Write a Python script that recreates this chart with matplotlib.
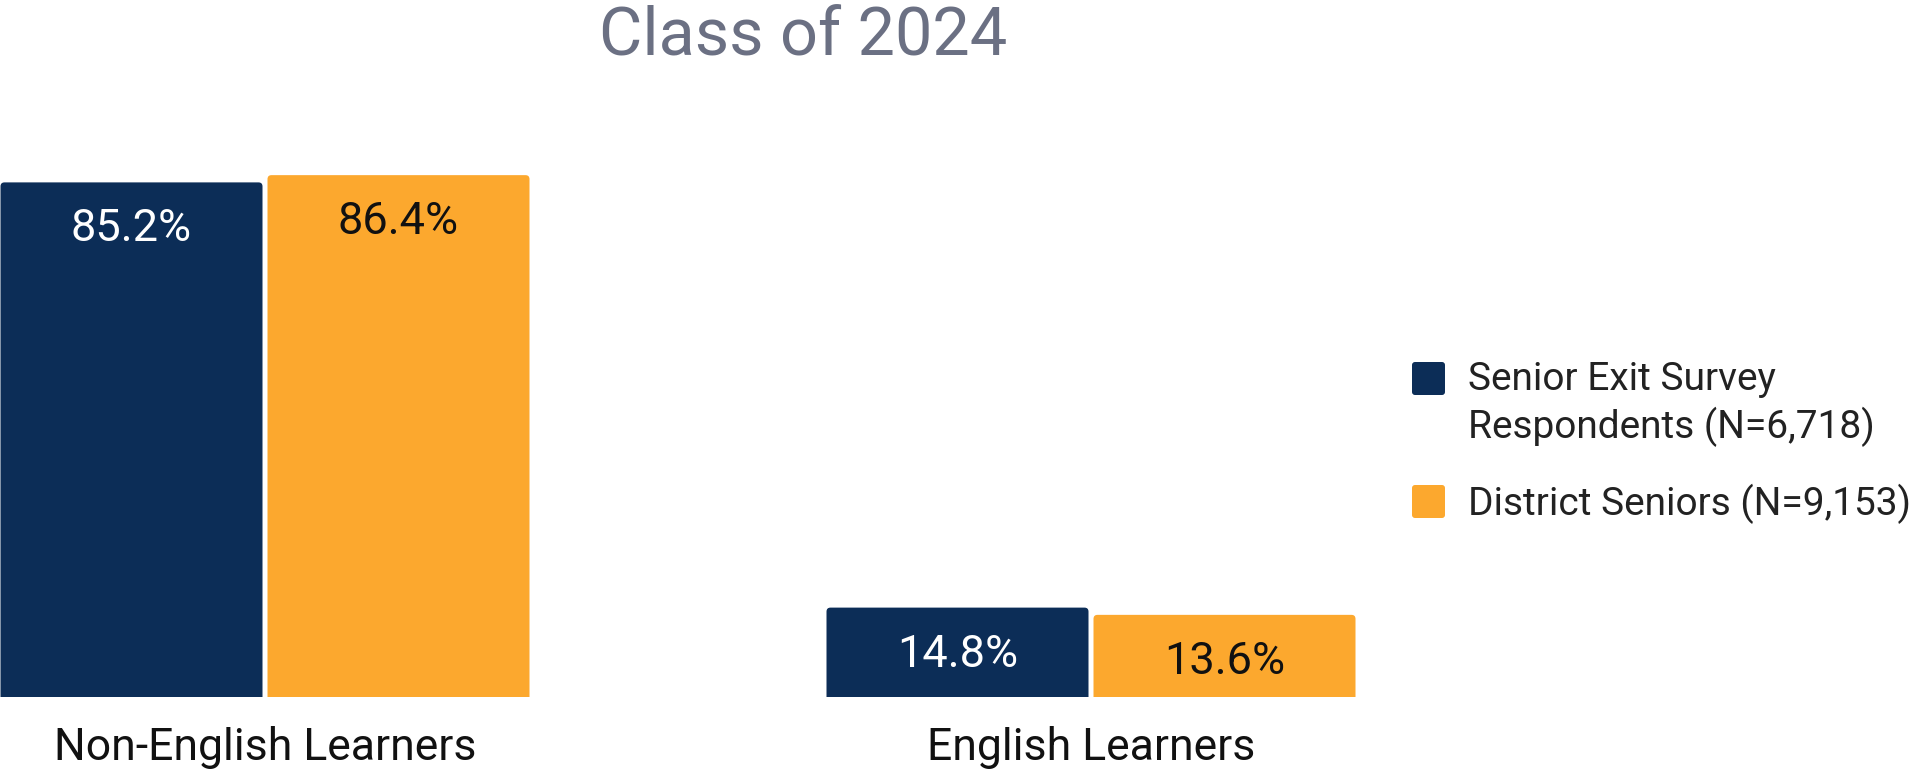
import matplotlib
matplotlib.use('Agg')
import matplotlib.pyplot as plt
from matplotlib.patches import Rectangle, FancyBboxPatch

categories = ['Non-English Learners', 'English Learners']
series_names = ['Senior Exit Survey\nRespondents (N=6,718)', 'District Seniors (N=9,153)']
survey = [85.2, 14.8]
district = [86.4, 13.6]
title = 'Class of 2024'

colors = ['#0c2d57', '#fca82e']
label_colors = ['#ffffff', '#111111']

plt.rcParams['font.family'] = ['Roboto', 'DejaVu Sans']

W, H = 1913, 769
fig = plt.figure(figsize=(W / 100, H / 100), dpi=100)
PT = 72 / 100  # points per pixel


def fx(px):
    return px / W


def fy(py):
    return 1 - py / H


base_px = 697
ppu = 6.04
top_px = base_px - 100 * ppu
right_px = 1390
group_dist = 826
c0 = 265

ax = fig.add_axes([0, fy(base_px), right_px / W, (base_px - top_px) / H])
bw = 262 / group_dist
gap = 5 / group_dist
off = (bw + gap) / 2
xs = list(range(len(categories)))
radius_px = 4
aspect = (1 / ppu) / (1 / group_dist)

for si, (vals, col, lc) in enumerate(zip([survey, district], colors, label_colors)):
    pos = [x + (-off if si == 0 else off) for x in xs]
    bars = ax.bar(pos, vals, width=bw, color=col, linewidth=0)
    for b in bars:
        bx, bwid, bh = b.get_x(), b.get_width(), b.get_height()
        b.set_visible(False)
        ext = radius_px / ppu
        fb = FancyBboxPatch((bx, -ext), bwid, bh + ext,
                            boxstyle=f'round,pad=0,rounding_size={radius_px / group_dist}',
                            mutation_aspect=aspect, facecolor=col, edgecolor='none')
        ax.add_patch(fb)
    for p, v in zip(pos, vals):
        ax.annotate(f'{v:.1f}%', xy=(p, v), xytext=(0, -59 * PT), textcoords='offset points',
                    ha='center', va='baseline', fontsize=32.5, color=lc)

for x, cat in zip(xs, categories):
    ax.annotate(cat, xy=(x, 0), xytext=(0, -63 * PT), textcoords='offset points',
                ha='center', va='baseline', fontsize=32, color='#111111', annotation_clip=False)

ax.set_xlim(-c0 / group_dist, (right_px - c0) / group_dist)
ax.set_ylim(0, 100)
ax.axis('off')

fig.text(fx(803), fy(55), title, ha='center', va='baseline', fontsize=48, color='#6b7083')

# legend
sq = 33
legend_items = [(362, [390, 438]), (485, [515])]
for (sq_top, baselines), name, col in zip(legend_items, series_names, colors):
    fig.patches.append(FancyBboxPatch((fx(1412), fy(sq_top + sq)), sq / W, sq / H,
                                      boxstyle=f'round,pad=0,rounding_size={3 / W}',
                                      mutation_aspect=W / H,
                                      transform=fig.transFigure, facecolor=col, edgecolor='none'))
    for line, b in zip(name.split('\n'), baselines):
        fig.text(fx(1468), fy(b), line, ha='left', va='baseline', fontsize=28, color='#222222')

fig.savefig('out.png', dpi=100, facecolor='white')
